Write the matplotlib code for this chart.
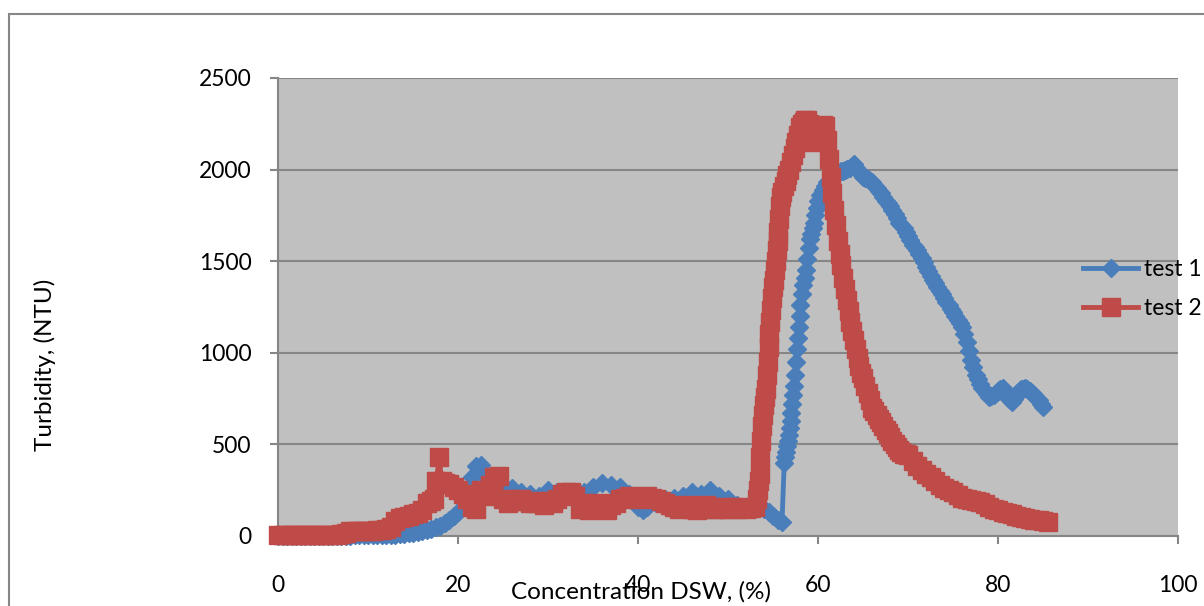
import matplotlib
matplotlib.use("Agg")
import matplotlib.pyplot as plt
from matplotlib.patches import Rectangle

plt.rcParams['font.family'] = ['Lato', 'DejaVu Sans']

# test 1 (blue diamonds)
conc_1 = [0, 0.5, 1, 1.5, 2, 2.5, 3, 3.5, 4, 4.5, 5, 5.5, 6, 6.5, 7, 7.5, 8, 8.5, 9, 9.5,
          10, 10.5, 11, 11.5, 12, 12.5, 13, 13.5, 14, 14.5, 15, 15.5, 16, 16.5, 17, 17.5,
          18, 18.5, 19, 19.5, 20, 20.5, 21, 21.5, 22, 22.5, 23, 23.5, 24, 25, 26, 27, 28,
          29, 30, 31, 32, 33, 34, 35, 36, 37, 38, 39, 40, 40.5, 41, 42, 43, 44, 45, 46, 47,
          48, 49, 50, 51, 52, 53, 54, 54.5, 55, 55.5, 56,
          56.25, 56.35, 56.45, 56.55, 56.65, 56.75, 56.85, 56.95, 57.05, 57.15, 57.25,
          57.35, 57.45, 57.55, 57.65, 57.75, 57.85, 57.95, 58.05, 58.2, 58.35, 58.5,
          58.65, 58.8, 58.95, 59.1, 59.25, 59.4, 59.55, 59.7, 59.85, 60, 60.25, 60.5,
          60.75, 61, 61.25, 61.5, 61.75, 62, 62.25, 62.5, 62.75, 63, 63.25, 63.5, 63.75,
          64, 64.25, 64.5, 64.75, 65, 65.25, 65.5, 65.75, 66, 66.25, 66.5, 66.75, 67,
          67.25, 67.5, 67.75, 68, 68.25, 68.5, 68.75, 69, 69.25, 69.5, 69.75, 70, 70.25,
          70.5, 70.75, 71, 71.25, 71.5, 71.75, 72, 72.25, 72.5, 72.75, 73, 73.25, 73.5,
          73.75, 74, 74.25, 74.5, 74.75, 75, 75.25, 75.5, 75.75, 76, 76.25, 76.5, 76.75,
          77, 77.25, 77.5, 77.75, 78, 78.25, 78.5, 78.75, 79, 79.25, 79.5, 79.75, 80,
          80.25, 80.5, 80.75, 81, 81.25, 81.5, 81.75, 82, 82.25, 82.5, 82.75, 83, 83.25,
          83.5, 83.75, 84, 84.25, 84.5, 84.75, 85]
turb_1 = [0, 0, 0, 0, 0, 0, 0, 0, 0, 0, 0, 0, 0, 0, 0, 0, 2, 3, 4, 5,
          5, 5, 6, 6, 7, 8, 8, 10, 12, 14, 16, 22, 30, 35, 40, 48,
          55, 70, 90, 110, 130, 190, 250, 320, 380, 390, 330, 290, 270, 250, 260, 240, 230,
          220, 250, 240, 230, 230, 240, 270, 290, 280, 270, 230, 160, 140, 160, 180, 200, 210,
          220, 240, 230, 250, 220, 200, 170, 160, 150, 145, 130, 110, 90, 75,
          400, 430, 460, 490, 520, 550, 590, 630, 670, 720, 770,
          820, 880, 950, 1020, 1080, 1140, 1200, 1260, 1320, 1370, 1410,
          1450, 1510, 1570, 1620, 1650, 1680, 1710, 1750, 1790, 1830, 1860, 1890,
          1910, 1930, 1940, 1950, 1960, 1970, 1980, 1990, 1995, 2000, 2005, 2010, 2020,
          2030, 2010, 1990, 1975, 1960, 1955, 1950, 1940, 1930, 1915, 1900, 1885, 1870,
          1850, 1830, 1815, 1800, 1780, 1760, 1735, 1710, 1695, 1680, 1660, 1640, 1615,
          1590, 1575, 1560, 1540, 1520, 1495, 1470, 1445, 1420, 1400, 1380, 1360, 1340,
          1320, 1300, 1280, 1260, 1240, 1220, 1200, 1180, 1160, 1140, 1100, 1060, 1010,
          960, 920, 880, 855, 830, 810, 790, 775, 760, 765, 770, 780, 790,
          800, 810, 790, 770, 750, 730, 750, 770, 785, 800, 805, 810, 800,
          790, 780, 770, 755, 740, 720, 705]

# test 2 (red squares)
conc_2 = [0, 0.5, 1, 1.5, 2, 2.5, 3, 3.5, 4, 4.5, 5, 5.5, 6, 6.5, 7, 7.5, 8, 8.5, 9, 9.5,
          10, 10.5, 11, 11.5, 12, 12.5, 13, 13.5, 14, 14.5, 15, 15.5, 16, 16.5, 17, 17.3,
          17.6, 17.9, 18.2, 18.6, 19, 19.5, 20, 20.5, 21, 21.5, 22, 22.5, 23, 23.5, 24, 24.5,
          25, 25.5, 26, 26.5, 27, 27.5, 28, 28.5, 29, 29.5, 30, 30.5, 31, 31.5, 32, 32.5, 33,
          33.5, 34, 34.5, 35, 35.5, 36, 36.5, 37, 37.5, 38, 38.5, 39, 39.5, 40, 40.5, 41, 41.5,
          42, 42.5, 43, 43.5, 44, 44.5, 45, 45.5, 46, 46.5, 47, 47.5, 48, 48.5, 49, 49.5, 50,
          50.5, 51, 51.5, 52, 52.5, 53, 53.2, 53.3, 53.4, 53.5, 53.6, 53.7, 53.8, 53.9, 54,
          54.1, 54.2, 54.3, 54.4, 54.5, 54.6, 54.7, 54.8, 54.9, 55, 55.1, 55.2, 55.3, 55.4,
          55.5, 55.6, 55.7, 55.8, 55.9, 56, 56.2, 56.4, 56.6, 56.8, 57, 57.2, 57.4, 57.6,
          57.8, 58, 58.2, 58.4, 58.6, 58.8, 59, 59.2, 59.4, 59.6, 59.8, 60, 60.2, 60.4,
          60.6, 60.8, 61, 61.2, 61.4, 61.6, 61.8, 62, 62.2, 62.4, 62.6, 62.8, 63, 63.2,
          63.4, 63.6, 63.8, 64, 64.2, 64.4, 64.6, 64.8, 65, 65.25, 65.5, 65.75, 66, 66.25,
          66.5, 66.75, 67, 67.25, 67.5, 67.75, 68, 68.25, 68.5, 68.75, 69, 69.25, 69.5,
          69.75, 70, 70.5, 71, 71.5, 72, 72.5, 73, 73.5, 74, 74.5, 75, 75.5, 76, 76.5, 77,
          77.5, 78, 78.5, 79, 79.5, 80, 80.5, 81, 81.5, 82, 82.5, 83, 83.5, 84, 84.5, 85,
          85.5]
turb_2 = [5, 5, 5, 5, 5, 5, 5, 5, 5, 5, 5, 5, 6, 8, 10, 15, 30, 30, 30, 30,
          30, 30, 35, 35, 40, 50, 80, 100, 105, 110, 120, 125, 140, 180, 190, 200,
          300, 430, 300, 290, 285, 270, 250, 230, 200, 160, 150, 250, 220, 280, 320, 330,
          200, 180, 190, 200, 200, 190, 180, 180, 190, 170, 190, 180, 200, 230, 240, 240, 220,
          150, 180, 140, 150, 180, 160, 140, 170, 180, 200, 210, 220, 210, 200, 210, 220, 210,
          200, 190, 180, 170, 160, 150, 160, 170, 150, 140, 150, 170, 160, 150, 150, 160, 150,
          160, 150, 160, 150, 155, 160, 200, 250, 300, 340, 430, 520, 600, 660, 715,
          760, 800, 880, 950, 1030, 1100, 1170, 1233, 1300, 1360, 1400, 1450, 1500, 1560,
          1610, 1660, 1730, 1800, 1850, 1880, 1910, 1940, 1970, 2000, 2040, 2080, 2120, 2150,
          2190, 2230, 2250, 2260, 2270, 2270, 2250, 2230, 2190, 2150, 2190, 2220, 2240, 2240,
          2245, 2240, 2160, 2060, 1960, 1870, 1780, 1700, 1610, 1540, 1480, 1410, 1350, 1290,
          1230, 1170, 1120, 1070, 1020, 970, 930, 890, 860, 820, 780, 740, 700, 680,
          660, 640, 620, 600, 580, 560, 540, 520, 500, 485, 470, 460, 450,
          445, 440, 410, 380, 360, 340, 320, 300, 280, 260, 250, 240, 225, 210, 200, 195,
          190, 185, 175, 160, 150, 140, 130, 125, 120, 110, 105, 100, 95, 90, 85, 80,
          78]

blue = '#4A7EBB'
red = '#BE4B48'

fig = plt.figure(figsize=(12.04, 6.06), dpi=100)
ax = fig.add_axes([278 / 1204, 1 - 536 / 606, 900 / 1204, 458 / 606])
ax.set_facecolor('#C0C0C0')

ax.plot(conc_1, turb_1, color=blue, lw=3.5, marker='D', ms=9.5,
        mfc=blue, mec=blue, label='test 1', zorder=3, clip_on=False)
ax.plot(conc_2, turb_2, color=red, lw=3.5, marker='s', ms=13,
        mfc=red, mec=red, label='test 2', zorder=4, clip_on=False)

ax.set_xlim(0, 100)
ax.set_ylim(0, 2500)
ax.set_xticks([0, 20, 40, 60, 80, 100])
ax.set_yticks([0, 500, 1000, 1500, 2000, 2500])
ax.grid(True, axis='y', color='#868686', lw=1.5)
ax.set_axisbelow(True)
for s in ['top', 'right']:
    ax.spines[s].set_visible(False)
for s in ['left', 'bottom']:
    ax.spines[s].set_color('#868686')
    ax.spines[s].set_linewidth(1.5)
ax.tick_params(axis='both', direction='out', length=6, width=1.5, color='#868686',
               labelsize=16.5)
ax.tick_params(axis='y', pad=13)
ax.tick_params(axis='x', pad=22)

fig.text(641 / 1204, 1 - 592 / 606, 'Concentration DSW, (%)', fontsize=17.5,
         ha='center', va='center')
fig.text(45 / 1204, 1 - 365 / 606, 'Turbidity, (NTU)', fontsize=17.5,
         ha='center', va='center', rotation=90)

ax.legend(loc='center left', bbox_to_anchor=(1083 / 1204, 1 - 289 / 606),
          bbox_transform=fig.transFigure, frameon=False, fontsize=16.5,
          handlelength=2.4, handletextpad=0.25, labelspacing=0.75, numpoints=1,
          borderaxespad=0, borderpad=0)

fig.add_artist(Rectangle((9 / 1204, -0.1), 1.2, 1 - 14 / 606 + 0.1,
                         transform=fig.transFigure, fill=False,
                         edgecolor='#868686', lw=1.5))

fig.savefig('out.png', dpi=100)
